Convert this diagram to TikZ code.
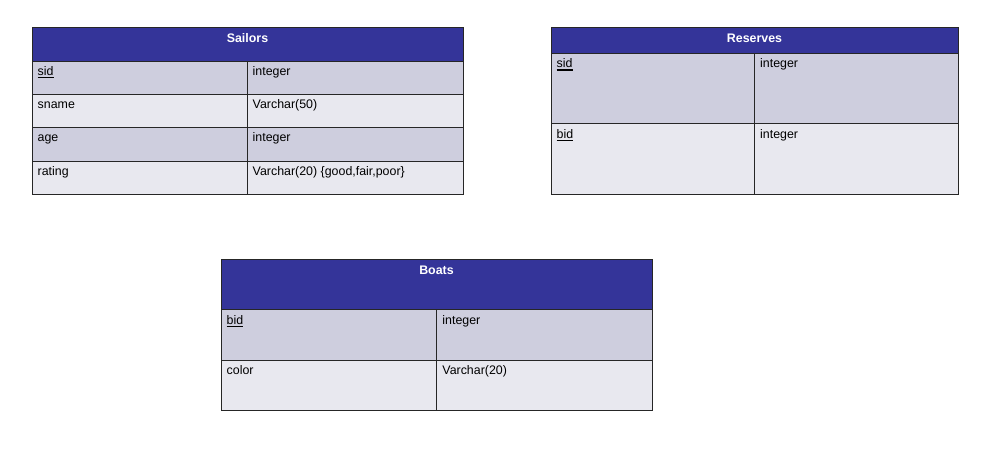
\documentclass[tikz,border=0pt]{standalone}
\usepackage{fontspec}
\setmainfont{Liberation Sans}
\definecolor{hdrblue}{HTML}{343499}
\definecolor{rowdark}{HTML}{CECEDE}
\definecolor{rowlight}{HTML}{E8E8EF}
\newcommand{\keyu}[1]{\setbox0\hbox{#1}\rlap{\raisebox{-3pt}{\rule{\wd0}{1.5pt}}}\box0}
\tikzset{
  cellbase/.style={draw=black!85, line width=0.9pt, anchor=north west, inner sep=0, outer sep=0},
  hdr/.style={cellbase, fill=hdrblue},
  dk/.style={cellbase, fill=rowdark},
  lt/.style={cellbase, fill=rowlight},
  txt/.style={anchor=north west, inner sep=0, text height=9pt, text depth=3pt, xshift=5.5pt, yshift=-5pt, font=\fontsize{12.4}{14}\selectfont},
  ttl/.style={anchor=center, inner sep=0, text=white, font=\fontsize{12.4}{14}\selectfont\bfseries}
}
\begin{document}
\begin{tikzpicture}[x=1pt,y=-1pt]
\useasboundingbox (0,0) rectangle (982,452);
% Sailors
\node[hdr, minimum width=431pt, minimum height=34pt] (sh) at (32,27) {};
\node[ttl] (sht) at ([yshift=-11pt]sh.north) {Sailors};
\node[dk, minimum width=215pt, minimum height=33pt] (s1a) at (32,61) {};
\node[dk, minimum width=216pt, minimum height=33pt] (s1b) at (247,61) {};
\node[lt, minimum width=215pt, minimum height=33pt] (s2a) at (32,94) {};
\node[lt, minimum width=216pt, minimum height=33pt] (s2b) at (247,94) {};
\node[dk, minimum width=215pt, minimum height=34pt] (s3a) at (32,127) {};
\node[dk, minimum width=216pt, minimum height=34pt] (s3b) at (247,127) {};
\node[lt, minimum width=215pt, minimum height=33pt] (s4a) at (32,161) {};
\node[lt, minimum width=216pt, minimum height=33pt] (s4b) at (247,161) {};
\node[txt] (s1at) at (s1a.north west) {\keyu{sid}};
\node[txt] (s1bt) at (s1b.north west) {integer};
\node[txt] (s2at) at (s2a.north west) {sname};
\node[txt] (s2bt) at (s2b.north west) {Varchar(50)};
\node[txt] (s3at) at (s3a.north west) {age};
\node[txt] (s3bt) at (s3b.north west) {integer};
\node[txt] (s4at) at (s4a.north west) {rating};
\node[txt] (s4bt) at (s4b.north west) {Varchar(20) \{good,fair,poor\}};
% Reserves
\node[hdr, minimum width=407pt, minimum height=26pt] (rh) at (551,27) {};
\node[ttl] (rht) at ([yshift=-11pt]rh.north) {Reserves};
\node[dk, minimum width=203.5pt, minimum height=70.5pt] (r1a) at (551,53.3) {};
\node[dk, minimum width=203.5pt, minimum height=70.5pt] (r1b) at (754.5,53.3) {};
\node[lt, minimum width=203.5pt, minimum height=70.5pt] (r2a) at (551,123.8) {};
\node[lt, minimum width=203.5pt, minimum height=70.5pt] (r2b) at (754.5,123.8) {};
\node[txt] (r1at) at (r1a.north west) {\keyu{sid}};
\node[txt] (r1bt) at (r1b.north west) {integer};
\node[txt] (r2at) at (r2a.north west) {\keyu{bid}};
\node[txt] (r2bt) at (r2b.north west) {integer};
% Boats
\node[hdr, minimum width=431pt, minimum height=50.5pt] (bh) at (221,259.3) {};
\node[ttl] (bht) at ([yshift=-11pt]bh.north) {Boats};
\node[dk, minimum width=215.7pt, minimum height=50.5pt] (b1a) at (221,309.8) {};
\node[dk, minimum width=215.3pt, minimum height=50.5pt] (b1b) at (436.7,309.8) {};
\node[lt, minimum width=215.7pt, minimum height=50pt] (b2a) at (221,360.3) {};
\node[lt, minimum width=215.3pt, minimum height=50pt] (b2b) at (436.7,360.3) {};
\node[txt] (b1at) at (b1a.north west) {\keyu{bid}};
\node[txt] (b1bt) at (b1b.north west) {integer};
\node[txt] (b2at) at (b2a.north west) {color};
\node[txt] (b2bt) at (b2b.north west) {Varchar(20)};
\end{tikzpicture}
\end{document}
